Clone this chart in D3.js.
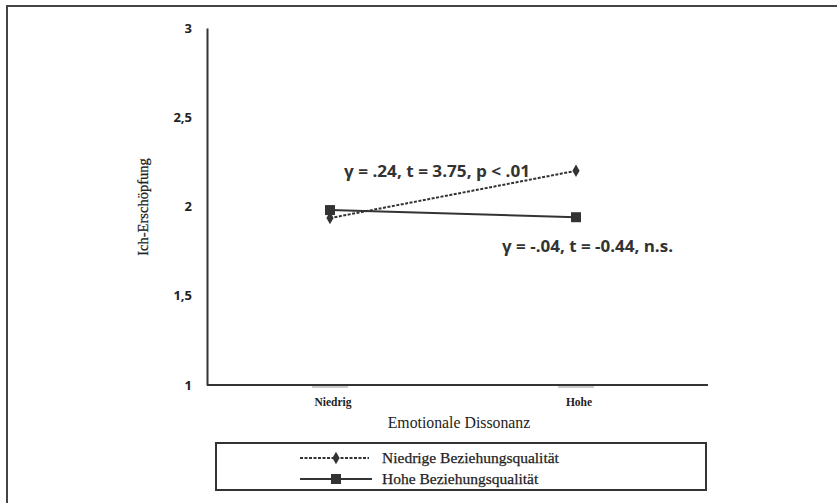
<!DOCTYPE html>
<html><head><meta charset="utf-8">
<script src="https://cdn.jsdelivr.net/npm/d3@7"></script>
<style>body{margin:0;background:#fff}svg{display:block}</style>
</head><body>
<svg id="c" width="837" height="503"></svg>
<script>
const categories = ["Niedrig", "Hohe"];
const seriesNames = ["Niedrige Beziehungsqualität", "Hohe Beziehungsqualität"];
const lowQuality = [1.935, 2.20];
const highQuality = [1.98, 1.94];
const yTicks = [1, 1.5, 2, 2.5, 3];
const yTickLabels = ["1", "1,5", "2", "2,5", "3"];
const annotations = ["γ = .24, t = 3.75, p < .01", "γ = -.04, t = -0.44, n.s."];

const svg = d3.select("#c");
const ink = "#333";
const pL = 207, pR = 708, pT = 28, pB = 385;

// outer frame (top and left edges)
svg.append("line").attr("x1", 6).attr("x2", 837).attr("y1", 6).attr("y2", 6).attr("stroke", "#444").attr("stroke-width", 2);
svg.append("line").attr("x1", 7).attr("x2", 7).attr("y1", 5).attr("y2", 503).attr("stroke", "#444").attr("stroke-width", 2);

const xPos = d3.scalePoint().domain(categories).range([330, 576]);
const y = d3.scaleLinear().domain([1, 3]).range([pB, pT]);

// y axis
const yAxis = d3.axisLeft(y).tickValues(yTicks).tickSize(0).tickPadding(15)
  .tickFormat((d, i) => yTickLabels[i]);
const gy = svg.append("g").attr("transform", `translate(${pL},0)`).call(yAxis);
gy.select(".domain").attr("stroke", ink).attr("stroke-width", 2);
gy.selectAll("text").attr("font-family", "'Open Sans', sans-serif").attr("font-weight", "bold")
  .attr("font-size", 13).attr("fill", "#222");

// x axis
svg.append("line").attr("x1", pL).attr("x2", pR).attr("y1", pB).attr("y2", pB)
  .attr("stroke", ink).attr("stroke-width", 2);
svg.selectAll(".xt").data(categories).join("line")
  .attr("x1", d => xPos(d) - 18).attr("x2", d => xPos(d) + 18)
  .attr("y1", pB + 2).attr("y2", pB + 2).attr("stroke", "#bbb").attr("stroke-width", 1.5);
svg.selectAll(".xl").data(categories).join("text")
  .attr("x", d => xPos(d) + 3).attr("y", 406).attr("text-anchor", "middle")
  .attr("font-family", "'Liberation Serif', serif").attr("font-weight", "bold").attr("font-size", 11.5)
  .attr("fill", "#222").text(d => d);

svg.append("text").attr("x", 459).attr("y", 428).attr("text-anchor", "middle")
  .attr("font-family", "'Liberation Serif', serif").attr("font-size", 15.8).attr("fill", "#222")
  .text("Emotionale Dissonanz");
svg.append("text").attr("transform", "translate(148,207) rotate(-90)").attr("text-anchor", "middle")
  .attr("font-family", "'Liberation Serif', serif").attr("font-size", 14.5).attr("fill", "#222")
  .attr("stroke", "#222").attr("stroke-width", 0.25)
  .text("Ich-Erschöpfung");

const line = d3.line().x((d, i) => xPos(categories[i])).y(d => y(d));

// high quality solid
svg.append("path").datum(highQuality).attr("d", line).attr("fill", "none")
  .attr("stroke", ink).attr("stroke-width", 2);
svg.selectAll(".sq").data(highQuality).join("rect")
  .attr("x", (d, i) => xPos(categories[i]) - 5).attr("y", d => y(d) - 5)
  .attr("width", 10).attr("height", 10).attr("fill", ink);

// low quality dashed
svg.append("path").datum(lowQuality).attr("d", line).attr("fill", "none")
  .attr("stroke", ink).attr("stroke-width", 2).attr("stroke-dasharray", "3,1.5");
const diamond = d3.symbol().type(d3.symbolDiamond).size(45);
svg.selectAll(".dm").data(lowQuality).join("path")
  .attr("transform", (d, i) => `translate(${xPos(categories[i])},${y(d)})`)
  .attr("d", diamond).attr("fill", ink);

// annotations
svg.selectAll(".ann").data(annotations).join("text")
  .attr("x", (d, i) => [344, 502][i]).attr("y", (d, i) => [177, 252][i])
  .attr("textLength", (d, i) => [186, 171][i]).attr("lengthAdjust", "spacingAndGlyphs")
  .attr("font-family", "'Open Sans', sans-serif").attr("font-weight", "bold").attr("font-size", 16)
  .attr("fill", "#333").text(d => d);

// legend
svg.append("rect").attr("x", 216).attr("y", 443).attr("width", 490).attr("height", 47)
  .attr("fill", "none").attr("stroke", ink).attr("stroke-width", 2);
const lg = svg.append("g");
const rows = [458, 479];
lg.append("line").attr("x1", 300).attr("x2", 369).attr("y1", rows[0]).attr("y2", rows[0])
  .attr("stroke", ink).attr("stroke-width", 2).attr("stroke-dasharray", "3,1.5");
lg.append("path").attr("transform", `translate(336,${rows[0]})`).attr("d", diamond).attr("fill", ink);
lg.append("line").attr("x1", 300).attr("x2", 372).attr("y1", rows[1]).attr("y2", rows[1])
  .attr("stroke", ink).attr("stroke-width", 2);
lg.append("rect").attr("x", 331).attr("y", rows[1] - 5).attr("width", 10).attr("height", 10).attr("fill", ink);
lg.selectAll("text").data(seriesNames).join("text")
  .attr("x", 382).attr("y", (d, i) => rows[i] + 5)
  .attr("font-family", "'Liberation Serif', serif").attr("font-size", 15.5).attr("fill", "#222")
  .attr("stroke", "#222").attr("stroke-width", 0.25)
  .text(d => d);
</script>
</body></html>
